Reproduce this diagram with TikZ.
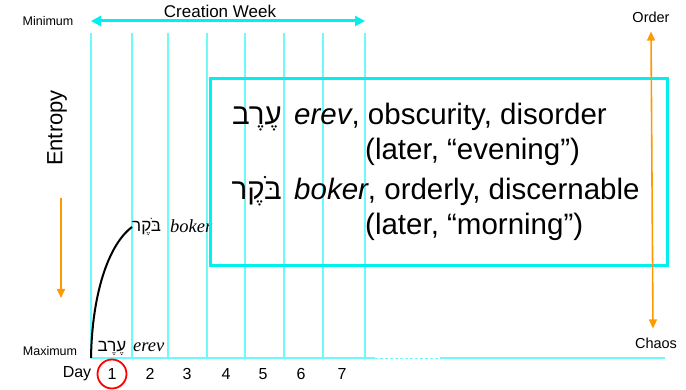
\documentclass[tikz,border=0pt]{standalone}
\usepackage{fontspec}
\setmainfont{Liberation Sans}
\newfontfamily\hebfont[Script=Hebrew]{Liberation Sans}
\newfontfamily\serifit{Liberation Serif}
\TeXXeTstate=1
\usepackage{xcolor}
\usepackage{tikz}
\usetikzlibrary{positioning,arrows.meta}

\definecolor{weekcyan}{RGB}{0,240,240}
\definecolor{linecyan}{RGB}{110,250,250}
\definecolor{entorange}{RGB}{255,153,0}

\newcommand{\heberev}{\hebfont\beginR עֶרֶב\endR}
\newcommand{\hebboker}{\hebfont\beginR בֹּקֶר\endR}

\begin{document}
\begin{tikzpicture}[
    x=1pt, y=-1pt,
    dayline/.style={draw=linecyan, line width=1.4pt},
    infobox/.style={draw=weekcyan, line width=3pt, minimum width=457pt, minimum height=187pt, inner sep=0pt},
    bigtext/.style={inner sep=0pt, font=\fontsize{29.5}{36}\selectfont},
    smalllbl/.style={inner sep=0pt, font=\fontsize{12.5}{14}\selectfont},
    daylbl/.style={inner sep=0pt, font=\fontsize{16}{18}\selectfont},
    oarrow/.style={draw=entorange, line width=1.6pt, -{Triangle[length=9pt,width=8pt]}},
    ]
        \useasboundingbox (0,0) rectangle (686,390);

        %Grid of the week
        \foreach \dx in {91,132,168,207,245,284,323,365}
            \draw[dayline] (\dx,33) -- (\dx,358);
        \draw[draw=linecyan, line width=1.4pt] (91,358) -- (375,358);
        \draw[draw=linecyan, line width=0.8pt, dashed, dash pattern=on 3pt off 2pt] (375,358) -- (440,358);
        \draw[draw=linecyan, line width=1.4pt] (440,358) -- (665,358);

        %Nodes
        \coordinate (cwL) at (91,21);
        \coordinate (cwR) at (365,21);
        \node[inner sep=0pt, font=\fontsize{17}{19}\selectfont]
            (week)      at (220,11)     {Creation Week};
        \node[smalllbl]
            (minimum)   at (48,21)      {Minimum};
        \node[smalllbl]
            (maximum)   at (50,351)     {Maximum};
        \node[inner sep=0pt, rotate=90, font=\fontsize{22}{24}\selectfont]
            (entropy)   at (57,128)     {Entropy};
        \coordinate (entTop) at (61,198);
        \coordinate (entBot) at (61,298);
        \node[inner sep=0pt, font=\fontsize{14.5}{16}\selectfont]
            (order)     at (651,17)     {Order};
        \node[inner sep=0pt, font=\fontsize{14.5}{16}\selectfont]
            (chaos)     at (656,343)    {Chaos};

        \node[daylbl]
            (day)       at (77,374)     {Day};
        \foreach \n/\dx in {1/112,2/150,3/187,4/226,5/263,6/301,7/342}
            \node[daylbl] (d\n) at (\dx,374) {\n};
        \draw[red, line width=1.8pt] (d1) circle[radius=14.5pt];

        \coordinate (origin) at (91,358);
        \coordinate (peak) at (132,227);
        \node[inner sep=0pt, anchor=west, font=\fontsize{17}{19}\selectfont]
            (hebB)      [right=0pt of peak]       {\hebboker};
        \node[inner sep=0pt, anchor=base west, font=\fontsize{18.5}{20}\serifit\itshape]
            (bokerlbl)  at (170,233)  {boker};
        \node[inner sep=0pt, anchor=base, font=\fontsize{17}{19}\selectfont]
            (hebE)      at (112,352)  {\heberev};
        \node[inner sep=0pt, anchor=base west, font=\fontsize{18.5}{20}\serifit\itshape]
            (erevlbl)   at (133,352)  {erev};

        \node[infobox]
            (box)       at (438.5,172.5) {};
        \node[bigtext, anchor=base east]
            (hebA1)     at (282,125)  {\heberev};
        \node[bigtext, anchor=base west]
            (erevA)     at (294,125)  {\textit{erev}, obscurity, disorder};
        \node[bigtext, anchor=base west]
            (erevB)     at (365,160)  {(later, “evening”)};
        \node[bigtext, anchor=base east]
            (hebB1)     at (282,200)  {\hebboker};
        \node[bigtext, anchor=base west]
            (bokerA)    at (294,200)  {\textit{boker}, orderly, discernable};
        \node[bigtext, anchor=base west]
            (bokerB)    at (365,235)  {(later, “morning”)};

        %Lines
        \draw[draw=weekcyan, line width=3pt, {Triangle[length=10pt,width=10pt]}-{Triangle[length=10pt,width=10pt]}]
            (cwL) -- (cwR);
        \draw[oarrow] (entTop) -- (entBot);
        \draw[oarrow, {Triangle[length=9pt,width=8pt]}-{Triangle[length=9pt,width=8pt]}]
            ([yshift=-9pt]order.south) -- ([xshift=-3pt,yshift=9pt]chaos.north);
        \draw[black, line width=2pt]
            (origin) .. controls (92,295) and (108,245) .. (peak);
    \end{tikzpicture}
\end{document}
